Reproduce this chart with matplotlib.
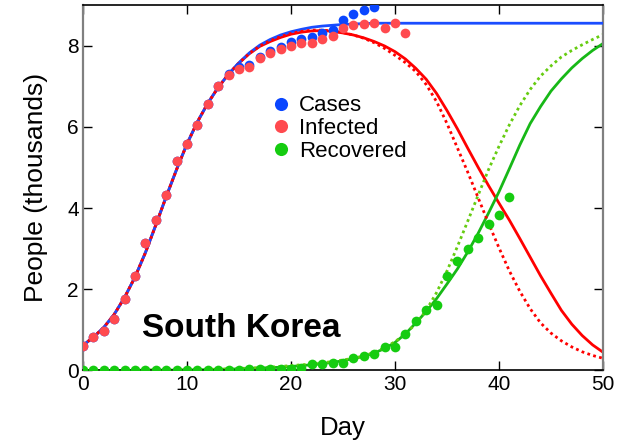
import matplotlib
matplotlib.use("Agg")
import matplotlib.pyplot as plt

plt.rcParams["font.family"] = ["Liberation Sans", "DejaVu Sans"]

# DATA (thousands of people, by day)
data_days = list(range(0, 32))
cases_days = list(range(0, 29))
recovered_days = list(range(0, 42))

infected_pts = [0.60, 0.82, 0.96, 1.26, 1.75, 2.32, 3.13, 3.71, 4.31, 5.16,
                5.58, 6.04, 6.55, 7.00, 7.27, 7.43, 7.47, 7.70, 7.82, 7.91,
                8.00, 8.06, 8.07, 8.15, 8.23, 8.44, 8.50, 8.52, 8.55, 8.44,
                8.55, 8.32]
cases_pts = [0.60, 0.82, 0.96, 1.26, 1.75, 2.32, 3.13, 3.71, 4.31, 5.16,
             5.58, 6.04, 6.55, 7.00, 7.31, 7.47, 7.51, 7.73, 7.86, 7.96,
             8.08, 8.16, 8.22, 8.31, 8.38, 8.64, 8.78, 8.87, 8.95]
recovered_pts = [0.00, 0.00, 0.00, 0.00, 0.00, 0.00, 0.00, 0.00, 0.00, 0.00,
                 0.01, 0.01, 0.01, 0.02, 0.02, 0.02, 0.03, 0.03, 0.03, 0.04,
                 0.04, 0.06, 0.16, 0.16, 0.19, 0.19, 0.30, 0.36, 0.40, 0.58,
                 0.57, 0.90, 1.21, 1.48, 1.62, 2.32, 2.69, 3.00, 3.26, 3.61,
                 3.84, 4.27]

fit_days = list(range(0, 51))
cases_fit = [0.62, 0.82, 1.06, 1.38, 1.80, 2.30, 2.90, 3.58, 4.28, 4.95,
             5.58, 6.12, 6.58, 6.97, 7.30, 7.58, 7.82, 8.01, 8.15, 8.26,
             8.34, 8.40, 8.45, 8.48, 8.50, 8.52, 8.53, 8.54, 8.55, 8.55,
             8.55, 8.55, 8.55, 8.55, 8.55, 8.55, 8.55, 8.55, 8.55, 8.55,
             8.55, 8.55, 8.55, 8.55, 8.55, 8.55, 8.55, 8.55, 8.55, 8.55,
             8.55]
infected_fit = [0.62, 0.82, 1.06, 1.38, 1.80, 2.30, 2.90, 3.58, 4.28, 4.95,
                5.58, 6.12, 6.58, 6.97, 7.30, 7.57, 7.80, 7.98, 8.10, 8.20,
                8.28, 8.33, 8.36, 8.37, 8.35, 8.31, 8.26, 8.19, 8.10, 7.99,
                7.85, 7.67, 7.44, 7.17, 6.82, 6.40, 5.95, 5.47, 5.00, 4.55,
                4.12, 3.70, 3.25, 2.79, 2.33, 1.90, 1.48, 1.14, 0.86, 0.63,
                0.45]
infected_fit2 = [0.62, 0.82, 1.06, 1.38, 1.80, 2.30, 2.90, 3.58, 4.28, 4.95,
                 5.58, 6.12, 6.58, 6.97, 7.30, 7.57, 7.81, 7.99, 8.12, 8.22,
                 8.30, 8.35, 8.38, 8.38, 8.36, 8.32, 8.26, 8.18, 8.07, 7.93,
                 7.76, 7.58, 7.36, 7.04, 6.62, 6.08, 5.48, 4.88, 4.25, 3.62,
                 3.02, 2.45, 1.95, 1.52, 1.17, 0.92, 0.73, 0.58, 0.46, 0.37,
                 0.30]
recovered_fit = [0.00, 0.00, 0.00, 0.00, 0.00, 0.00, 0.01, 0.01, 0.01, 0.01,
                 0.01, 0.02, 0.02, 0.03, 0.03, 0.04, 0.05, 0.06, 0.07, 0.08,
                 0.10, 0.12, 0.14, 0.17, 0.20, 0.24, 0.29, 0.35, 0.43, 0.54,
                 0.69, 0.90, 1.17, 1.45, 1.77, 2.13, 2.50, 2.92, 3.38, 3.88,
                 4.40, 4.97, 5.55, 6.08, 6.50, 6.88, 7.18, 7.45, 7.68, 7.88,
                 8.05]
recovered_fit2 = [0.00, 0.00, 0.00, 0.00, 0.00, 0.00, 0.01, 0.01, 0.01, 0.01,
                  0.02, 0.02, 0.03, 0.03, 0.04, 0.05, 0.06, 0.07, 0.08, 0.10,
                  0.12, 0.14, 0.16, 0.19, 0.22, 0.26, 0.30, 0.36, 0.45, 0.56,
                  0.71, 0.90, 1.15, 1.48, 1.92, 2.45, 3.05, 3.68, 4.32, 4.95,
                  5.52, 6.05, 6.52, 6.92, 7.25, 7.50, 7.72, 7.88, 8.02, 8.15,
                  8.27]

fig = plt.figure(figsize=(6.25, 4.42), dpi=100)
ax = fig.add_axes([0.1328, 0.1618, 0.832, 0.827])

# fitted curves
ax.plot(fit_days, infected_fit, color="#ff0000", lw=2.0, zorder=2)
ax.plot(fit_days, cases_fit, color="#1a4dff", lw=2.0, zorder=3)
ax.plot(fit_days, infected_fit2, color="#ff0000", lw=2.0, ls=(0, (1, 1.2)), zorder=4)
ax.plot(fit_days, recovered_fit, color="#17b817", lw=2.0, zorder=2)
ax.plot(fit_days, recovered_fit2, color="#66cc11", lw=2.0, ls=(0, (1, 1.2)), zorder=2)

# data points
ax.plot(cases_days, cases_pts, "o", color="#0a46ff", ms=7, mec="none", label="Cases", zorder=5)
ax.plot(data_days, infected_pts, "o", color="#ff4a4f", ms=7, mec="none", label="Infected", zorder=6)
ax.plot(recovered_days, recovered_pts, "o", color="#15cc10", ms=7, mec="none", label="Recovered", zorder=6)

ax.set_xlim(0, 50)
ax.set_ylim(0, 9)
ax.set_xticks([0, 10, 20, 30, 40, 50])
ax.set_yticks([0, 2, 4, 6, 8])
ax.tick_params(direction="in", length=6.5, width=1, labelsize=15, pad=3,
               top=True, right=True)
for side in ["left", "right"]:
    ax.spines[side].set_color("#808080")
    ax.spines[side].set_linewidth(1.6)
for side in ["top", "bottom"]:
    ax.spines[side].set_linewidth(1.2)

ax.set_xlabel("Day", fontsize=18.5, labelpad=16)
ax.set_ylabel("People (thousands)", fontsize=19, labelpad=14)

ax.text(5.7, 0.83, "South Korea", fontsize=24, fontweight="bold", ha="left", va="baseline")

ax.legend(loc="upper left", bbox_to_anchor=(0.338, 0.783), frameon=False,
          fontsize=16, handletextpad=0.3, labelspacing=0.08, borderpad=0,
          handlelength=1.0, markerscale=1.35)

plt.savefig("out.png", dpi=100)
